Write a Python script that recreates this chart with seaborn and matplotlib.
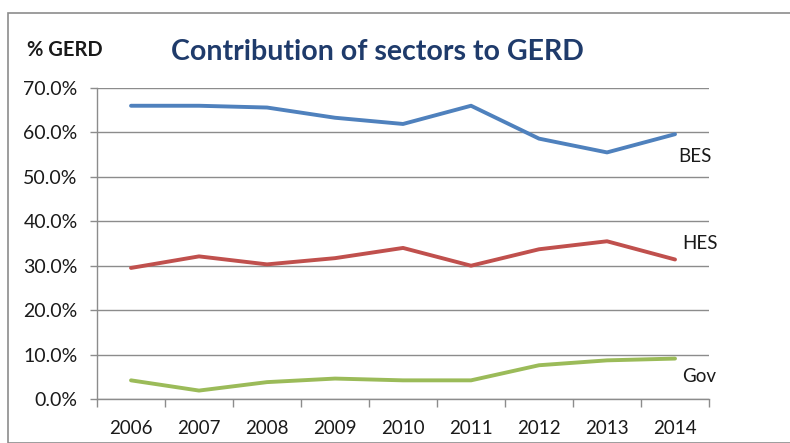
import matplotlib
matplotlib.use("Agg")
import matplotlib.pyplot as plt
import matplotlib.patches as patches
import pandas as pd
import seaborn as sns
from matplotlib.ticker import FuncFormatter, MultipleLocator

# === DATA ===
years = [2006, 2007, 2008, 2009, 2010, 2011, 2012, 2013, 2014]
bes = [66.0, 66.0, 65.6, 63.3, 61.9, 66.0, 58.6, 55.5, 59.6]
hes = [29.5, 32.1, 30.3, 31.7, 34.0, 30.0, 33.7, 35.5, 31.4]
gov = [4.2, 1.9, 3.8, 4.6, 4.2, 4.2, 7.6, 8.7, 9.1]
sectors = ["BES", "HES", "Gov"]
colors = {"BES": "#4F81BD", "HES": "#C0504D", "Gov": "#9BBB59"}

df = pd.DataFrame({
    "year": years * 3,
    "share": bes + hes + gov,
    "sector": [s for s in sectors for _ in years],
})

# === PLOT ===
sns.set_style("white")
plt.rcParams["font.family"] = ["Lato", "DejaVu Sans"]

fig = plt.figure(figsize=(7.9, 4.43), dpi=100)
ax = fig.add_axes([0.1228, 0.0993, 0.7747, 0.7021])

# outer chart frame
fig.patches.append(patches.Rectangle((8 / 790, 0), 1.2, (443 - 13) / 443,
                                     transform=fig.transFigure, fill=False,
                                     edgecolor="#8c8c8c", linewidth=1.2))

sns.lineplot(data=df, x="year", y="share", hue="sector", palette=colors,
             linewidth=2.8, legend=False, ax=ax)

ax.set_xlim(2005.5, 2014.5)
ax.set_ylim(0, 70)
ax.set_xticks(years)
ax.set_xticks([y + 0.5 for y in [2005] + years], minor=True)
ax.yaxis.set_major_locator(MultipleLocator(10))
ax.yaxis.set_major_formatter(FuncFormatter(lambda v, p: f"{v:.1f}%"))
ax.set_xlabel("")
ax.set_ylabel("")

ax.grid(axis="y", color="#8c8c8c", linewidth=1.0)
ax.set_axisbelow(True)
for side in ["top", "right"]:
    ax.spines[side].set_visible(False)
for side in ["left", "bottom"]:
    ax.spines[side].set_color("#8c8c8c")
    ax.spines[side].set_linewidth(1.0)

ax.tick_params(axis="x", which="major", length=0, pad=15, labelsize=13.5, labelcolor="#1a1a1a")
ax.tick_params(axis="x", which="minor", length=6, width=1, color="#8c8c8c", direction="out")
ax.tick_params(axis="y", length=5, width=1, color="#8c8c8c", direction="out", pad=9,
               labelsize=14, labelcolor="#1a1a1a")
ax.tick_params(bottom=True, left=True, which="both")

# series labels at the right end
ax.text(2014.05, 54.5, "BES", fontsize=13.5, color="#1a1a1a", va="center")
ax.text(2014.1, 35.0, "HES", fontsize=13.5, color="#1a1a1a", va="center")
ax.text(2014.1, 5.0, "Gov", fontsize=13.5, color="#1a1a1a", va="center")

fig.text(377 / 790, 1 - 52 / 443, "Contribution of sectors to GERD", fontsize=20.5,
         fontweight="bold", color="#1F3B6B", ha="center", va="center")
fig.text(27 / 790, 1 - 50 / 443, "% GERD", fontsize=14.5, fontweight="bold",
         color="#1a1a1a", ha="left", va="center")

fig.savefig("out.png", dpi=100)
